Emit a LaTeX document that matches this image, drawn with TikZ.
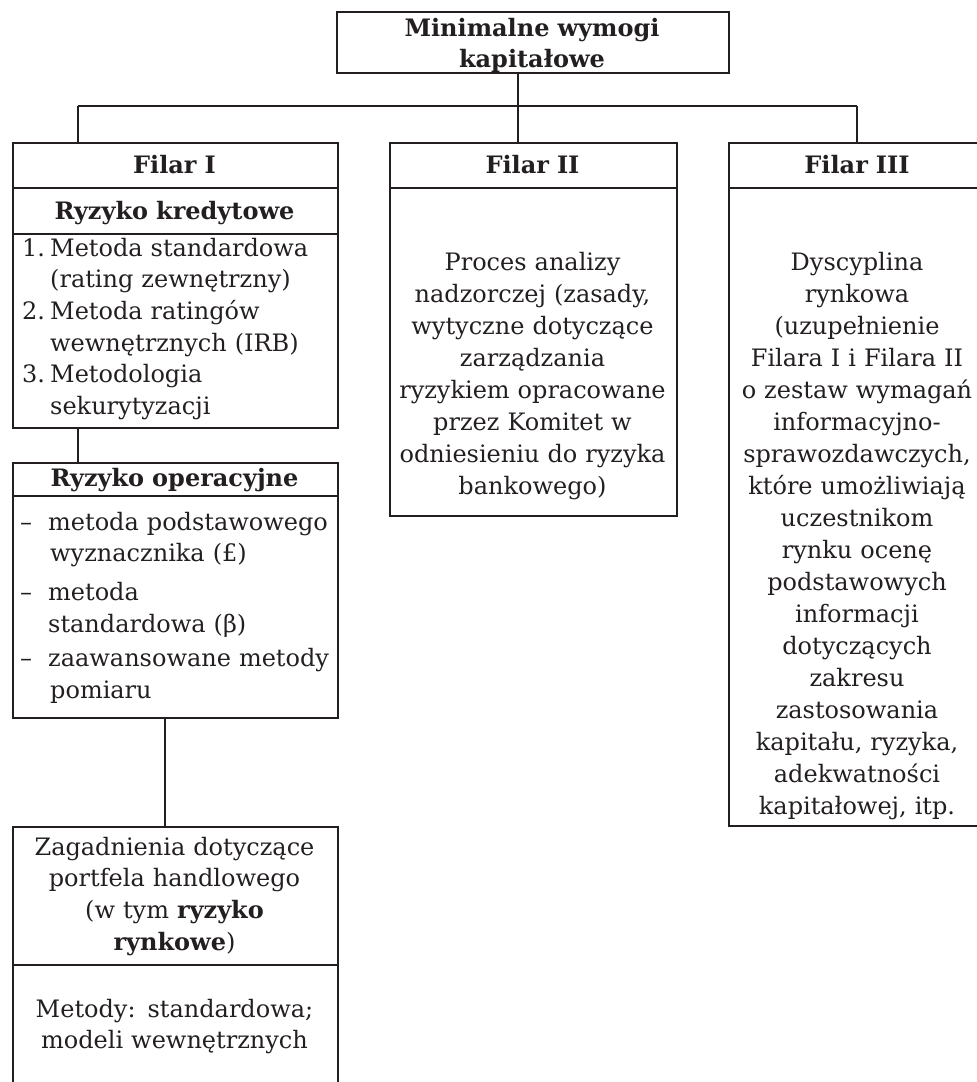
\documentclass[tikz,border=0pt]{standalone}
\usepackage{fontspec}
\setmainfont{DejaVu Serif}
\definecolor{ink}{HTML}{231F20}
\tikzset{
  boxst/.style={draw=ink, line width=1.8pt, inner sep=0pt, anchor=north west},
  txt/.style={text=ink, inner sep=0pt, font=\fontsize{24}{31.6}\selectfont, align=center, text width=400pt, anchor=north},
  wtxt/.style={txt, font=\fontsize{24}{32}\selectfont},
  btxt/.style={txt, font=\fontsize{24}{31.6}\selectfont\bfseries},
  ltxt/.style={txt, align=left, text width=320pt, anchor=north west},
  conn/.style={draw=ink, line width=1.8pt},
  hconn/.style={draw=ink, line width=1.2pt}
}
\newcommand{\fl}{\rule{0pt}{20pt}}
\begin{document}
\begin{tikzpicture}[x=1pt,y=-1pt]
\useasboundingbox (0,0) rectangle (977,1082);
\clip (0,0) rectangle (977,1082);
% boxes
\node[boxst, minimum width=392pt, minimum height=61pt] (title) at (336,11) {};
\node[boxst, minimum width=325pt, minimum height=45pt] (f1h) at (12,142) {};
\node[boxst, minimum width=325pt, minimum height=46pt] (f1k) at (12,187) {};
\node[boxst, minimum width=325pt, minimum height=194pt] (f1list) at (12,233) {};
\node[boxst, minimum width=325pt, minimum height=33pt] (opsh) at (12,462) {};
\node[boxst, minimum width=325pt, minimum height=222pt] (opslist) at (12,495) {};
\node[boxst, minimum width=325pt, minimum height=138pt] (mkt) at (12,826) {};
\node[boxst, minimum width=325pt, minimum height=135pt] (mkt2) at (12,964) {};
\node[boxst, minimum width=287pt, minimum height=45pt] (f2h) at (389,142) {};
\node[boxst, minimum width=287pt, minimum height=328pt] (f2b) at (389,187) {};
\node[boxst, minimum width=258pt, minimum height=45pt] (f3h) at (728,142) {};
\node[boxst, minimum width=258pt, minimum height=638pt] (f3b) at (728,187) {};
% texts
\node[btxt] (ttitle) at (532,16) {\fl Minimalne wymogi\\kapitałowe};
\node[btxt] (tf1h) at (174.5,153) {\fl Filar I};
\node[btxt] (tf2h) at (532.5,153) {\fl Filar II};
\node[btxt] (tf3h) at (857,153) {\fl Filar III};
\node[btxt] (tf1k) at (174.5,199) {\fl Ryzyko kredytowe};
\node[ltxt] (tf1list) at (22,236) {\fl\makebox[28pt][l]{1.}Metoda standardowa\\
\hspace*{28pt}(rating zewnętrzny)\\
\makebox[28pt][l]{2.}Metoda ratingów\\
\hspace*{28pt}wewnętrznych (IRB)\\
\makebox[28pt][l]{3.}Metodologia\\
\hspace*{28pt}sekurytyzacji};
\node[btxt] (topsh) at (174.5,466) {\fl Ryzyko operacyjne};
\node[ltxt] (topslist) at (20,510) {\fl\makebox[28pt][l]{–}metoda podstawowego\\
\hspace*{30pt}wyznacznika (£)\\[7pt]
\makebox[28pt][l]{–}metoda\\
\hspace*{28pt}standardowa (β)\\[3pt]
\makebox[28pt][l]{–}zaawansowane metody\\
\hspace*{30pt}pomiaru};
\node[txt] (tmkt) at (174.5,835) {\fl Zagadnienia dotyczące\\portfela handlowego\\(w tym \textbf{ryzyko}\\\textbf{rynkowe})};
\node[txt] (tmkt2) at (174.5,997) {\fl Metody: standardowa;\\modeli wewnętrznych};
\node[wtxt] (tf2b) at (532.5,250) {\fl Proces analizy\\nadzorczej (zasady,\\wytyczne dotyczące\\zarządzania\\ryzykiem opracowane\\przez Komitet w\\odniesieniu do ryzyka\\bankowego)};
\node[wtxt] (tf3b) at (857,250) {\fl Dyscyplina\\rynkowa\\(uzupełnienie\\Filara I i Filara II\\o zestaw wymagań\\informacyjno-\\sprawozdawczych,\\które umożliwiają\\uczestnikom\\rynku ocenę\\podstawowych\\informacji\\dotyczących\\zakresu\\zastosowania\\kapitału, ryzyka,\\adekwatności\\kapitałowej, itp.};
% connectors
\coordinate (hub) at (518,106);
\coordinate (hl) at (78,106);
\coordinate (hr) at (857,106);
\draw[conn] (title.south -| hub) -- (hub);
\draw[hconn] (hl) -- (hr);
\draw[conn] (hl) -- (hl |- f1h.north);
\draw[conn] (hub) -- (hub |- f2h.north);
\draw[conn] (hr) -- (hr |- f3h.north);
\coordinate (c1) at (78,427);
\draw[conn] (f1list.south -| c1) -- (c1 |- opsh.north);
\coordinate (c2) at (165,717);
\draw[conn] (opslist.south -| c2) -- (c2 |- mkt.north);
\end{tikzpicture}
\end{document}
